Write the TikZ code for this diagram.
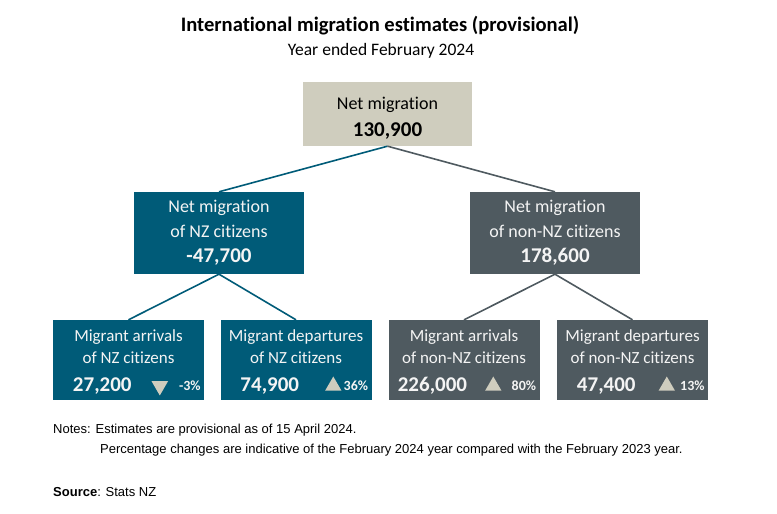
\documentclass[tikz,border=0pt]{standalone}
\usepackage{fontspec}
\setmainfont{Carlito}[Ligatures=NoCommon]
\newfontfamily\notefont{Liberation Sans}
\usetikzlibrary{positioning, shapes.geometric}
\definecolor{nzteal}   {HTML}{005B78}
\definecolor{nonnzgrey}{HTML}{4F5A60}
\definecolor{netbeige} {HTML}{CFCDBE}
\definecolor{boxtext}  {HTML}{F4F4F4}

\begin{document}
\begin{tikzpicture}[
    x=1pt, y=1pt,
    topbox/.style  = {fill=netbeige, minimum width=169pt, minimum height=64pt},
    toptxt/.style  = {align=center, font=\fontsize{18}{27}\selectfont},
    midbox/.style  = {minimum width=170pt, minimum height=82pt, align=center,
                      text=boxtext, font=\fontsize{18}{25}\selectfont},
    lowbox/.style  = {minimum width=151pt, minimum height=80pt},
    lowtxt/.style  = {align=center, text=boxtext,
                      font=\fontsize{17}{22}\selectfont},
    numtxt/.style  = {anchor=east, inner sep=0pt, text=boxtext,
                      font=\fontsize{21}{21}\selectfont\bfseries},
    pcttxt/.style  = {anchor=east, inner sep=0pt, text=boxtext,
                      font=\fontsize{14}{14}\selectfont\bfseries},
    chgup/.style   = {regular polygon, regular polygon sides=3, fill=netbeige,
                      minimum size=19pt, inner sep=0pt},
    chgdown/.style = {chgup, shape border rotate=180},
    nzlink/.style  = {draw=nzteal, line width=1.6pt},
    oslink/.style  = {draw=nonnzgrey, line width=1.6pt},
    note/.style    = {anchor=west, inner sep=0pt,
                      font=\notefont\fontsize{13}{13}\selectfont}
  ]
  \useasboundingbox (0,0) rectangle (777,514);

  %% Titles
  \node[font=\fontsize{20.6}{20.6}\selectfont\bfseries] (title) at (380,488)
       {International migration estimates (provisional)};
  \node[font=\fontsize{17.5}{17.5}\selectfont] (subtitle) at (381,463)
       {Year ended February 2024};

  %% Net migration
  \node[topbox] (net) at (387.5,400) {};
  \node[toptxt] at ([yshift=-4pt]net.center)
       {Net migration\\{\fontsize{21}{21}\selectfont\bfseries 130,900}};

  %% Second level
  \node[midbox, fill=nzteal] (netnz) at (219,281)
       {Net migration\\of NZ citizens\\{\fontsize{21}{21}\selectfont\bfseries -47,700}};
  \node[midbox, fill=nonnzgrey] (netos) at (555,281)
       {Net migration\\of non-NZ citizens\\{\fontsize{21}{21}\selectfont\bfseries 178,600}};

  %% Third level
  \node[lowbox, fill=nzteal]    (arrnz) at (128.5,154) {};
  \node[lowbox, fill=nzteal]    (depnz) at (296,154)   {};
  \node[lowbox, fill=nonnzgrey] (arros) at (464,154)   {};
  \node[lowbox, fill=nonnzgrey] (depos) at (632.5,154) {};

  \node[lowtxt] at ([yshift=13pt]arrnz.center) {Migrant arrivals\\of NZ citizens};
  \node[lowtxt] at ([yshift=13pt]depnz.center) {Migrant departures\\of NZ citizens};
  \node[lowtxt] at ([yshift=13pt]arros.center) {Migrant arrivals\\of non-NZ citizens};
  \node[lowtxt] at ([yshift=13pt]depos.center) {Migrant departures\\of non-NZ citizens};

  \foreach \bx/\num/\tri/\tx/\pct in {arrnz/{27,200}/chgdown/107/-3\%,
                                      depnz/{74,900}/chgup/113/36\%,
                                      arros/{226,000}/chgup/105/80\%,
                                      depos/{47,400}/chgup/110/13\%} {
    \node[numtxt] at ([xshift=79pt,yshift=-26pt]\bx.west) {\num};
    \node[\tri]   at ([xshift=\tx pt,yshift=-26pt]\bx.west) {};
    \node[pcttxt] at ([xshift=148pt,yshift=-26pt]\bx.west) {\pct};
  }

  %% Connectors
  \draw[nzlink] (net.south) -- (netnz.north);
  \draw[oslink] (net.south) -- (netos.north);
  \draw[nzlink] (netnz.south) -- (arrnz.north);
  \draw[nzlink] (netnz.south) -- (depnz.north);
  \draw[oslink] (netos.south) -- (arros.north);
  \draw[oslink] (netos.south) -- (depos.north);

  %% Notes
  \node[note] (notes) at (53,84)
       {Notes: Estimates are provisional as of 15 April 2024.};
  \node[note] (notes2) at (100,64)
       {Percentage changes are indicative of the February 2024 year compared with the February 2023 year.};
  \node[note] (source) at (53,22) {\textbf{Source}: Stats NZ};

\end{tikzpicture}
\end{document}
